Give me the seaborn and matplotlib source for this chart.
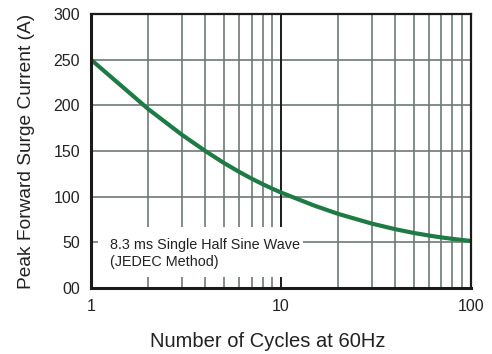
import pandas as pd
import seaborn as sns
import matplotlib.pyplot as plt
from matplotlib.patches import Rectangle
from matplotlib.ticker import FixedLocator, NullFormatter

# curve
cycles = [1, 2, 3, 4, 5, 6, 7, 8, 9, 10, 15, 20, 30, 40, 50, 60, 70, 80, 90, 100]
current = [250, 196, 168, 150, 137, 127.4, 119.8, 113.8, 108.8, 104.6,
           90.2, 81.2, 70.6, 64.4, 60.3, 57.5, 55.4, 53.8, 52.6, 51.5]

yticks = [0, 50, 100, 150, 200, 250, 300]
ytick_labels = ["00", "50", "100", "150", "200", "250", "300"]
xticks = [1, 10, 100]
xtick_labels = ["1", "10", "100"]

note_line1 = "8.3 ms Single Half Sine Wave"
note_line2 = "(JEDEC Method)"

df = pd.DataFrame({"cycles": cycles, "current": current})

sns.set_style("white")
plt.rcParams["font.family"] = ["Liberation Sans", "DejaVu Sans"]

fig = plt.figure(figsize=(4.92, 3.54), dpi=100)
ax = fig.add_axes([0.185, 0.1864, 0.772, 0.774])

grid_col = "#6f7977"
txt_col = "#222222"
ax.set_xscale("log")
ax.set_xlim(1, 100)
ax.set_ylim(0, 300)

# grid
minor = [m * d for d in (1, 10) for m in range(2, 10)]
for v in minor:
    ax.axvline(v, color=grid_col, lw=1.2, zorder=1)
for v in yticks[1:-1]:
    ax.axhline(v, color=grid_col, lw=1.2, zorder=1)
ax.axvline(10, color="#1a1a1a", lw=1.4, zorder=1)

sns.lineplot(data=df, x="cycles", y="current", color="#1e7b45", lw=3, ax=ax, zorder=4)

# white note box masking the grid
ax.add_patch(Rectangle((0.018, 0.04), 0.54, 0.183, transform=ax.transAxes,
                       facecolor="white", edgecolor="none", zorder=2))
ax.text(0.05, 0.141, note_line1, transform=ax.transAxes, fontsize=10.4,
        va="baseline", ha="left", color=txt_col, zorder=3)
ax.text(0.05, 0.080, note_line2, transform=ax.transAxes, fontsize=10.4,
        va="baseline", ha="left", color=txt_col, zorder=3)

ax.xaxis.set_major_locator(FixedLocator(xticks))
ax.xaxis.set_minor_formatter(NullFormatter())
ax.set_xticks(xticks, xtick_labels)
ax.set_yticks(yticks, ytick_labels)
ax.tick_params(axis="both", which="both", length=0, labelsize=11.5, colors=txt_col, pad=8)

for side in ["left", "bottom"]:
    ax.spines[side].set_linewidth(2.2)
for side in ["top", "right"]:
    ax.spines[side].set_linewidth(1.6)
for s in ax.spines.values():
    s.set_color("#1a1a1a")
    s.set_zorder(5)

ax.set_xlabel("Number of Cycles at 60Hz", fontsize=14.5, color=txt_col)
ax.set_ylabel("Peak Forward Surge Current (A)", fontsize=13.8, color=txt_col, labelpad=13)
ax.xaxis.set_label_coords(0.466, -0.162)

fig.savefig("out.png", dpi=100)
